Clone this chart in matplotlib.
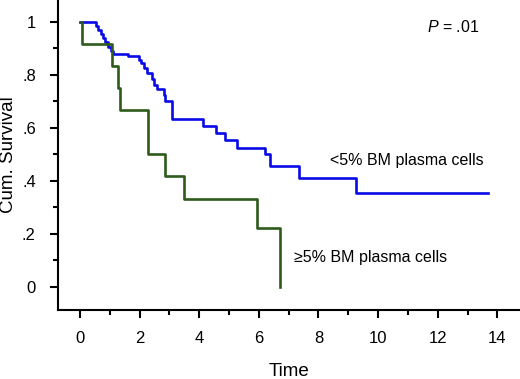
import matplotlib
matplotlib.use("Agg")
import matplotlib.pyplot as plt
from matplotlib.ticker import MultipleLocator, FixedFormatter, FixedLocator

plt.rcParams['font.family'] = ['Liberation Sans', 'DejaVu Sans']
plt.rcParams['mathtext.fontset'] = 'custom'
plt.rcParams['mathtext.it'] = 'Liberation Sans:italic'
plt.rcParams['mathtext.rm'] = 'Liberation Sans'

# Kaplan-Meier curves
low_time = [0, 0.53, 0.61, 0.70, 0.78, 0.85, 0.95, 1.05, 1.12, 1.62, 1.98, 2.06,
            2.15, 2.24, 2.40, 2.49, 2.57, 2.82, 2.85, 3.07, 4.13, 4.56, 4.86,
            5.28, 6.22, 6.36, 7.35, 9.25, 13.67]
low_surv = [1.0, 0.985, 0.970, 0.955, 0.940, 0.925, 0.905, 0.890, 0.880, 0.873,
            0.857, 0.845, 0.826, 0.807, 0.785, 0.762, 0.745, 0.725, 0.700, 0.633,
            0.607, 0.580, 0.555, 0.523, 0.500, 0.455, 0.412, 0.355, 0.355]

high_time = [0.03, 0.05, 1.06, 1.28, 1.34, 2.28, 2.85, 3.50, 5.94, 6.70]
high_surv = [1.0, 0.917, 0.833, 0.75, 0.667, 0.5, 0.417, 0.333, 0.222, 0.0]

y_ticks = [0, 0.2, 0.4, 0.6, 0.8, 1.0]
y_labels = ['0', '.2', '.4', '.6', '.8', '1']

fig = plt.figure(figsize=(5.2, 3.79), dpi=100)
ax = fig.add_axes([0.1115, 0.182, 0.8885, 0.818])

ax.step(low_time, low_surv, where='post', color='#0a0ae6', lw=1.9)
ax.step(high_time, high_surv, where='post', color='#2e5a1c', lw=1.9)

ax.set_xlim(-0.74, 14.76)
ax.set_ylim(-0.088, 1.083)

ax.xaxis.set_major_locator(MultipleLocator(2))
ax.xaxis.set_minor_locator(MultipleLocator(1))
ax.yaxis.set_major_locator(FixedLocator(y_ticks))
ax.yaxis.set_major_formatter(FixedFormatter(y_labels))
ax.yaxis.set_minor_locator(MultipleLocator(0.1))

ax.spines['top'].set_visible(False)
ax.spines['right'].set_visible(False)
for s in ['left', 'bottom']:
    ax.spines[s].set_linewidth(1.5)

ax.tick_params(which='major', length=6, width=1.5, labelsize=12, direction='out')
ax.tick_params(which='minor', length=3.5, width=1.5, direction='out')
ax.tick_params(axis='x', which='major', pad=9)
ax.tick_params(axis='y', which='major', pad=10)

ax.set_xlabel('Time', fontsize=13.5, va='center')
ax.xaxis.set_label_coords(0.5, -0.198)
ax.set_ylabel('Cum. Survival', fontsize=13.5, va='center')
ax.yaxis.set_label_coords(-0.108, 0.5)

ax.text(11.63, 0.98, '$P$ = .01', fontsize=11.5, va='center', ha='left')
ax.text(8.38, 0.475, '<5% BM plasma cells', fontsize=11.5, va='center', ha='left')
ax.text(7.17, 0.11, '≥5% BM plasma cells', fontsize=11.5, va='center', ha='left')

fig.savefig('out.png', dpi=100)
